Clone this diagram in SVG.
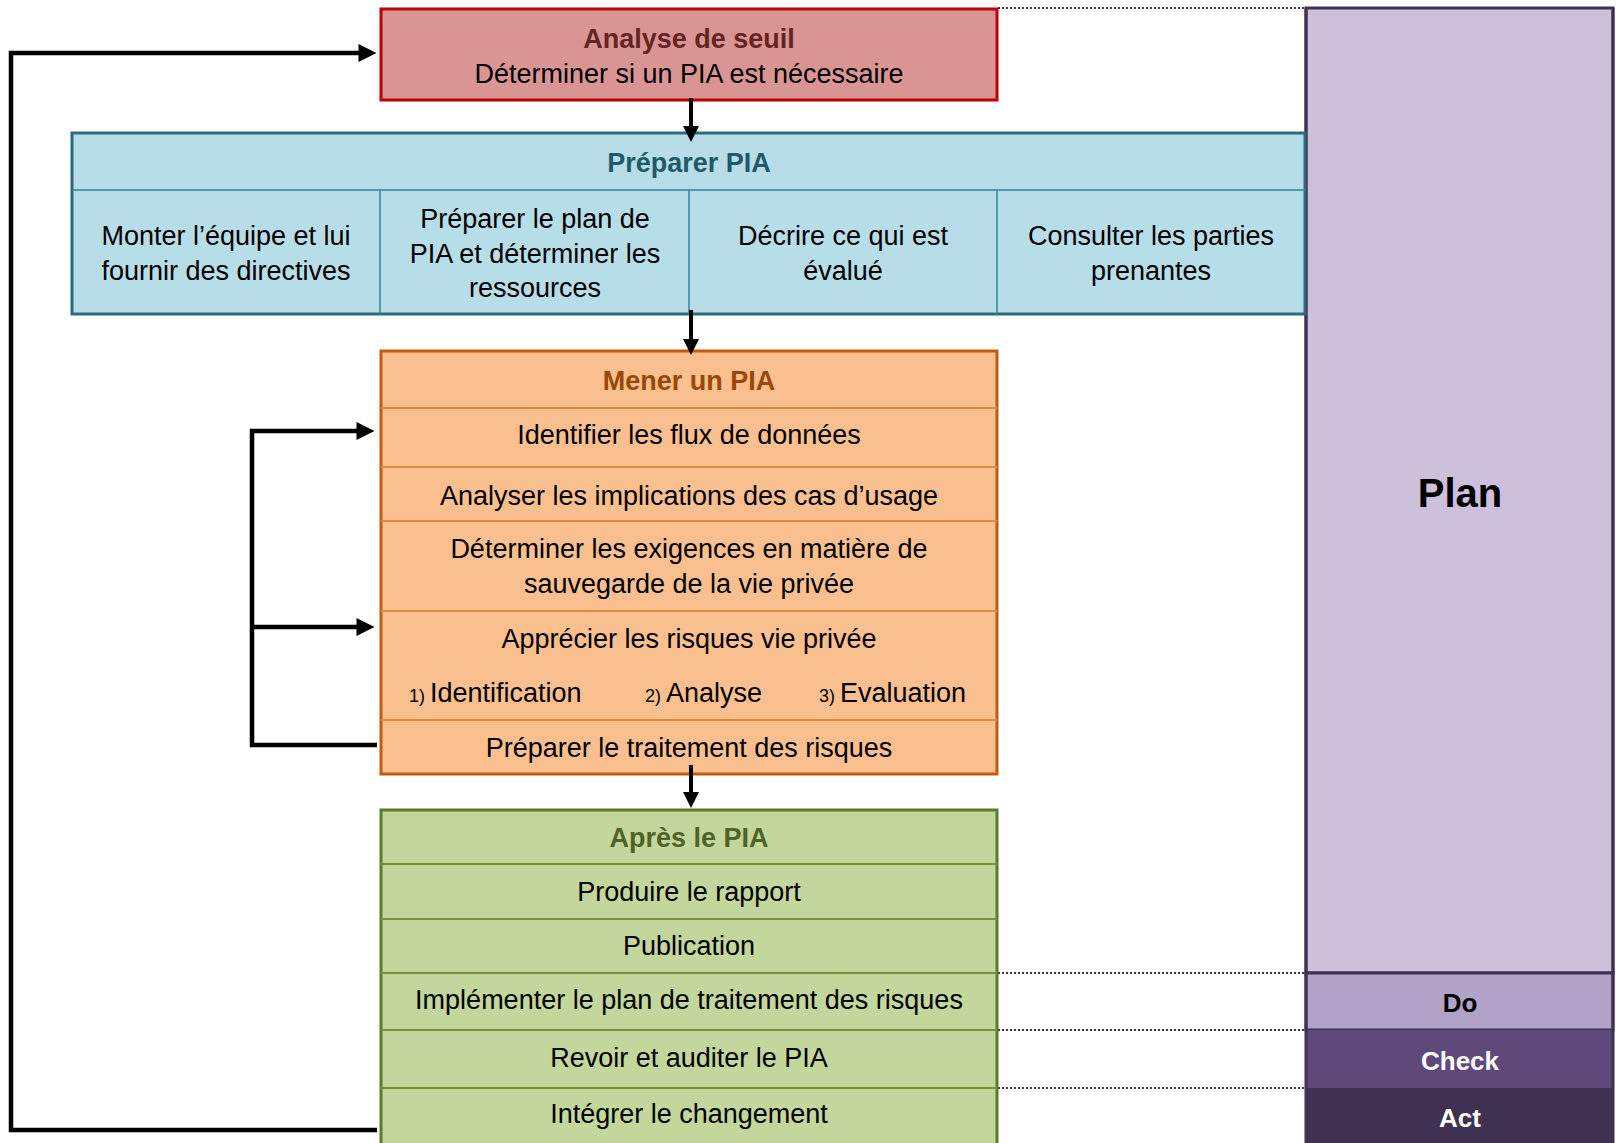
<svg xmlns="http://www.w3.org/2000/svg" width="1619" height="1143" viewBox="0 0 1619 1143">
<defs>
<style>
text{font-family:"Liberation Sans",Arial,sans-serif;font-size:27px;fill:#000;text-anchor:middle}
.b{font-weight:bold}
.sm{font-size:18px}
.dot{stroke:#3F3151;stroke-width:2;stroke-dasharray:2 2;fill:none}
.conn{stroke:#000;stroke-width:4.5;fill:none}
.arrow{stroke:#000;stroke-width:4;fill:none}
</style>
<marker id="ah" markerWidth="4.4" markerHeight="4.4" refX="1" refY="2" orient="auto" markerUnits="strokeWidth" overflow="visible">
<path d="M0,0 L4,2 L0,4 Z" fill="#000"/>
</marker>
</defs>
<rect width="1619" height="1143" fill="#fff"/>

<!-- dotted guide lines -->
<g id="guides">
<line class="dot" x1="998" y1="8" x2="1305" y2="8"/>
<line class="dot" x1="998" y1="973" x2="1305" y2="973"/>
<line class="dot" x1="998" y1="1030" x2="1305" y2="1030"/>
<line class="dot" x1="998" y1="1088" x2="1305" y2="1088"/>
</g>

<!-- PDCA column -->
<g id="plan">
<rect x="1306" y="8" width="307" height="965" fill="#CCC0DA" stroke="#3F3151" stroke-width="3"/>
<text class="b" x="1460" y="507" style="font-size:40px">Plan</text>
</g>
<g id="do">
<rect x="1306" y="973" width="307" height="57" fill="#B2A2C7" stroke="#3F3151" stroke-width="3"/>
<text class="b" x="1460" y="1012" style="font-size:26px">Do</text>
</g>
<g id="check">
<rect x="1306" y="1030" width="307" height="58" fill="#5F497A"/>
<text class="b" x="1460" y="1070" style="font-size:26px;fill:#fff">Check</text>
</g>
<g id="act">
<rect x="1306" y="1088" width="307" height="55" fill="#3F3151"/>
<text class="b" x="1460" y="1127" style="font-size:26px;fill:#fff">Act</text>
</g>
<line x1="1306" y1="8" x2="1306" y2="1143" stroke="#3F3151" stroke-width="3"/>
<line x1="1613" y1="8" x2="1613" y2="1143" stroke="#3F3151" stroke-width="3"/>

<!-- Analyse de seuil -->
<g id="analyse">
<rect x="381" y="9" width="616" height="91" fill="#D99594" stroke="#C00000" stroke-width="3"/>
<text class="b" x="689" y="48" style="fill:#632423">Analyse de seuil</text>
<text x="689" y="83">Déterminer si un PIA est nécessaire</text>
</g>

<!-- Préparer PIA -->
<g id="preparer">
<rect x="72" y="133" width="1233" height="181" fill="#B7DDE8" stroke="#2D6B7C" stroke-width="3"/>
<line x1="72" y1="190" x2="1305" y2="190" stroke="#31849B" stroke-width="1.5"/>
<line x1="380" y1="190" x2="380" y2="314" stroke="#31849B" stroke-width="1.5"/>
<line x1="689" y1="190" x2="689" y2="314" stroke="#31849B" stroke-width="1.5"/>
<line x1="997" y1="190" x2="997" y2="314" stroke="#31849B" stroke-width="1.5"/>
<text class="b" x="689" y="172" style="fill:#215968">Préparer PIA</text>
<text x="226" y="245">Monter l’équipe et lui</text>
<text x="226" y="280">fournir des directives</text>
<text x="535" y="228">Préparer le plan de</text>
<text x="535" y="263">PIA et déterminer les</text>
<text x="535" y="297">ressources</text>
<text x="843" y="245">Décrire ce qui est</text>
<text x="843" y="280">évalué</text>
<text x="1151" y="245">Consulter les parties</text>
<text x="1151" y="280">prenantes</text>
</g>

<!-- Mener un PIA -->
<g id="mener">
<rect x="381" y="351" width="616" height="423" fill="#FABF8F" stroke="#C55A11" stroke-width="3"/>
<g stroke="#E0883B" stroke-width="2">
<line x1="381" y1="408" x2="997" y2="408"/>
<line x1="381" y1="467" x2="997" y2="467"/>
<line x1="381" y1="521" x2="997" y2="521"/>
<line x1="381" y1="611" x2="997" y2="611"/>
<line x1="381" y1="720" x2="997" y2="720"/>
</g>
<text class="b" x="689" y="390" style="fill:#984807">Mener un PIA</text>
<text x="689" y="444">Identifier les flux de données</text>
<text x="689" y="505">Analyser les implications des cas d’usage</text>
<text x="689" y="558">Déterminer les exigences en matière de</text>
<text x="689" y="593">sauvegarde de la vie privée</text>
<text x="689" y="648">Apprécier les risques vie privée</text>
<text x="409" y="702" style="text-anchor:start"><tspan class="sm">1) </tspan>Identification</text>
<text x="645" y="702" style="text-anchor:start"><tspan class="sm">2) </tspan>Analyse</text>
<text x="819" y="702" style="text-anchor:start"><tspan class="sm">3) </tspan>Evaluation</text>
<text x="689" y="757">Préparer le traitement des risques</text>
</g>

<!-- Après le PIA -->
<g id="apres">
<rect x="381" y="810" width="616" height="340" fill="#C3D69B" stroke="#5E7A2D" stroke-width="3"/>
<g stroke="#76923C" stroke-width="2">
<line x1="381" y1="864" x2="997" y2="864"/>
<line x1="381" y1="919" x2="997" y2="919"/>
<line x1="381" y1="973" x2="997" y2="973"/>
<line x1="381" y1="1030" x2="997" y2="1030"/>
<line x1="381" y1="1088" x2="997" y2="1088"/>
</g>
<text class="b" x="689" y="847" style="fill:#4F6228">Après le PIA</text>
<text x="689" y="901">Produire le rapport</text>
<text x="689" y="955">Publication</text>
<text x="689" y="1009">Implémenter le plan de traitement des risques</text>
<text x="689" y="1067">Revoir et auditer le PIA</text>
<text x="689" y="1123">Intégrer le changement</text>
</g>

<!-- connectors -->
<g id="connectors">
<line class="arrow" x1="691" y1="98" x2="691" y2="130" marker-end="url(#ah)"/>
<line class="arrow" x1="691" y1="310" x2="691" y2="343" marker-end="url(#ah)"/>
<line class="arrow" x1="691" y1="765" x2="691" y2="796" marker-end="url(#ah)"/>
<polyline class="conn" points="377,1130 11,1130 11,53 363,53" marker-end="url(#ah)"/>
<polyline class="conn" points="377,745 252,745 252,431 361,431" marker-end="url(#ah)"/>
<line class="conn" x1="252" y1="627" x2="361" y2="627" marker-end="url(#ah)"/>
</g>
</svg>
